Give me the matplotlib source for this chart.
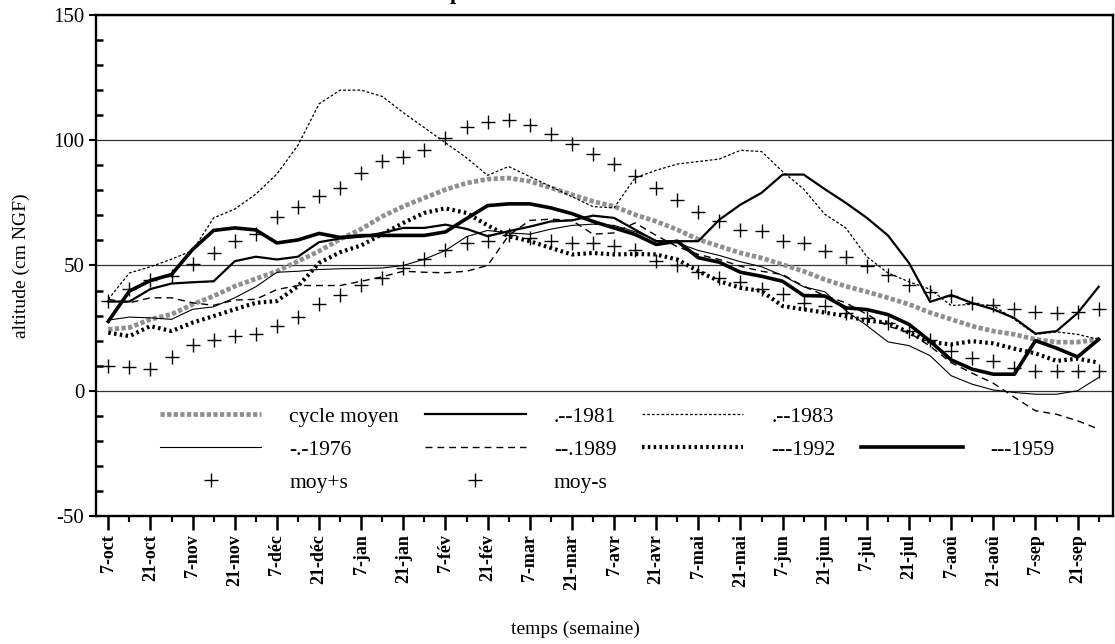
import matplotlib
matplotlib.use('Agg')
import matplotlib.pyplot as plt
from matplotlib.lines import Line2D
from matplotlib.ticker import MultipleLocator
import numpy as np

plt.rcParams['font.family'] = ['Liberation Serif', 'DejaVu Serif']
plt.rcParams['axes.unicode_minus'] = False

# --- données (altitude en cm NGF, une valeur par semaine) ---
semaines = ['7-oct', '21-oct', '7-nov', '21-nov', '7-déc', '21-déc', '7-jan', '21-jan',
            '7-fév', '21-fév', '7-mar', '21-mar', '7-avr', '21-avr', '7-mai', '21-mai',
            '7-jun', '21-jun', '7-jul', '21-jul', '7-aoû', '21-aoû', '7-sep', '21-sep']

cycle_moyen = [24.5, 25.2, 28.5, 30.5, 34.5, 37.8, 41.7, 44.7, 47.7, 51.7, 55.7, 60.5,
               64.5, 69.6, 73.6, 77.0, 80.3, 82.9, 84.5, 84.9, 83.6, 81.0, 78.3, 75.6,
               73.6, 70.3, 67.6, 64.3, 60.4, 57.7, 55.0, 53.0, 50.4, 47.7, 44.4, 41.7,
               39.5, 37.1, 34.5, 31.2, 28.5, 25.8, 23.8, 22.5, 20.5, 19.4, 19.4, 20.5]
a1981 = [35.6, 35.6, 40.6, 42.8, 43.3, 43.7, 51.7, 53.5, 52.4, 53.5, 59.3, 60.8,
         61.5, 63.0, 65.0, 65.0, 66.3, 64.6, 61.7, 63.7, 65.5, 67.6, 68.0, 69.9,
         69.0, 64.3, 59.7, 59.7, 59.7, 68.3, 74.3, 79.0, 86.3, 86.3, 80.5, 75.0,
         69.0, 62.0, 51.0, 35.5, 38.2, 35.0, 32.5, 29.0, 22.8, 23.8, 31.0, 41.5]
a1983 = [36.5, 47.0, 49.5, 52.5, 56.0, 69.0, 72.5, 78.5, 86.5, 98.0, 114.5, 120.0,
         120.0, 117.5, 111.0, 105.0, 99.0, 93.0, 86.0, 89.5, 85.5, 81.5, 77.5, 73.5,
         73.0, 85.0, 88.0, 90.5, 91.5, 92.5, 96.0, 95.5, 87.5, 80.5, 70.5, 65.0,
         53.5, 47.0, 43.5, 40.5, 34.0, 34.5, 34.0, 28.5, 22.5, 23.5, 22.5, 20.5]
a1976 = [28.2, 29.4, 29.1, 28.5, 32.5, 33.5, 37.1, 41.5, 47.3, 47.7, 48.4, 48.7,
         48.8, 49.0, 50.0, 52.5, 56.0, 61.5, 64.0, 63.0, 62.5, 64.5, 66.0, 66.5,
         66.0, 63.5, 60.0, 59.0, 56.0, 54.0, 51.5, 49.5, 46.0, 41.5, 39.5, 32.0,
         26.0, 19.5, 18.0, 14.0, 6.0, 2.6, 0.3, -0.7, -1.4, -1.4, 0.0, 5.3]
a1989 = [36.5, 35.1, 37.1, 37.1, 35.1, 34.1, 36.2, 36.5, 40.4, 42.0, 42.0, 42.0,
         43.7, 45.5, 47.7, 47.3, 47.1, 47.7, 50.0, 62.0, 68.0, 68.5, 68.0, 62.5,
         63.0, 67.0, 62.0, 57.5, 54.4, 52.4, 49.7, 47.7, 46.4, 41.7, 38.0, 35.1,
         30.5, 25.8, 23.2, 17.8, 11.2, 7.0, 3.0, -2.6, -8.0, -9.4, -12.0, -15.3]
a1992 = [23.2, 21.8, 25.8, 23.8, 27.2, 29.8, 32.5, 35.1, 35.8, 41.7, 51.0, 55.3,
         58.0, 62.5, 67.0, 71.0, 72.8, 71.0, 66.0, 61.7, 59.7, 57.0, 54.4, 55.0,
         54.4, 54.6, 54.4, 52.4, 47.7, 43.7, 41.1, 39.8, 33.8, 32.5, 31.2, 29.8,
         28.0, 27.2, 23.2, 19.4, 18.5, 19.8, 18.9, 16.8, 14.9, 11.9, 12.8, 11.2]
a1959 = [27.7, 39.8, 44.0, 46.4, 56.4, 64.0, 65.0, 64.2, 59.0, 60.2, 62.8, 61.2,
         61.9, 62.0, 62.0, 62.0, 63.4, 68.7, 73.9, 74.6, 74.6, 73.0, 70.7, 67.6,
         65.0, 62.4, 58.4, 59.7, 53.1, 51.3, 47.3, 45.7, 43.7, 38.0, 37.8, 33.1,
         32.4, 30.4, 26.5, 19.8, 12.3, 8.6, 6.6, 6.6, 20.0, 17.0, 13.5, 20.5]
moy_plus_s = [35.8, 40.7, 44.1, 46.0, 50.4, 55.0, 59.7, 62.7, 69.4, 73.4, 77.9, 81.0,
              86.8, 91.6, 93.3, 96.2, 100.9, 105.3, 107.2, 108.2, 106.2, 102.5, 98.6, 94.5,
              90.6, 85.6, 81.0, 76.3, 71.2, 67.6, 64.3, 63.7, 59.7, 59.0, 55.7, 53.5,
              49.6, 46.4, 42.4, 39.4, 37.8, 34.9, 34.1, 32.7, 31.4, 30.9, 31.4, 32.7]
moy_moins_s = [9.9, 9.5, 8.6, 13.5, 18.1, 20.2, 21.8, 22.8, 25.8, 29.4, 34.5, 38.4,
               42.4, 45.1, 49.1, 52.7, 56.0, 58.8, 59.7, 62.0, 61.0, 59.7, 58.8, 58.8,
               57.7, 56.0, 51.7, 50.0, 47.3, 45.1, 43.5, 40.7, 38.8, 35.1, 33.8, 30.9,
               29.2, 27.2, 23.8, 20.2, 15.9, 13.2, 11.9, 9.2, 7.9, 7.9, 7.9, 7.9]

x = np.arange(len(cycle_moyen))

fig = plt.figure(figsize=(11.15, 6.44), dpi=100)
ax = fig.add_axes([0.0861, 0.1988, 0.9121, 0.7779])

# courbes
l_cycle, = ax.plot(x, cycle_moyen, color='#8f8f8f', lw=3.4, ls=(0, (0.9, 0.5)))
l81, = ax.plot(x, a1981, color='black', lw=1.6)
l83, = ax.plot(x, a1983, color='black', lw=0.9, ls=(0, (2.2, 1.6)))
l76, = ax.plot(x, a1976, color='black', lw=0.8)
l89, = ax.plot(x, a1989, color='black', lw=1.0, ls=(0, (5, 3.5)))
l92, = ax.plot(x, a1992, color='black', lw=3.0, ls=(0, (0.6, 0.8)))
l59, = ax.plot(x, a1959, color='black', lw=2.6)
lp, = ax.plot(x, moy_plus_s, ls='none', marker='+', ms=10, mew=1.0, color='black')
lm, = ax.plot(x, moy_moins_s, ls='none', marker='+', ms=10, mew=1.0, color='black')

# axes
ax.set_xlim(-0.584, 47.68)
ax.set_ylim(-50, 150)
ax.set_xticks(x[::2])
ax.set_xticklabels(semaines, rotation=90, fontsize=13, fontweight='bold')
ax.xaxis.set_minor_locator(MultipleLocator(1))
ax.tick_params(axis='x', which='major', direction='out', length=10, width=1.8, pad=3)
ax.tick_params(axis='x', which='minor', direction='out', length=4, width=1.5)
ax.set_yticks([-50, 0, 50, 100, 150])
ax.yaxis.set_minor_locator(MultipleLocator(10))
ax.tick_params(axis='y', which='major', direction='out', length=5, width=1.5, labelsize=15)
ax.tick_params(axis='y', which='minor', direction='in', length=5, width=1.8)
for s in ax.spines.values():
    s.set_linewidth(1.7)
ax.grid(axis='y', which='major', color='#333333', lw=0.9)
ax.set_axisbelow(True)

ax.set_xlabel('temps (semaine)', fontsize=14)
ax.xaxis.set_label_coords(0.471, -0.21)
ax.set_ylabel('altitude (cm NGF)', fontsize=14)
ax.yaxis.set_label_coords(-0.065, 0.5)

# légende sur 4 colonnes (cases vides pour garder la disposition)
vide = Line2D([], [], ls='none')
handles = [l_cycle, l76, lp, l81, l89, lm, l83, l92, vide, vide, l59, vide]
labels = ['cycle moyen', '-.-1976', 'moy+s', '.--1981', '--.1989', 'moy-s',
          '.--1983', '---1992', '', '', '---1959', '']
ax.legend(handles, labels, ncol=4, loc='upper left', bbox_to_anchor=(0.063, 0.218),
          frameon=False, fontsize=15.5, handlelength=4.7, handletextpad=1.3,
          columnspacing=1.2, labelspacing=0.6, borderpad=0, borderaxespad=0)

# morceau du titre coupé en haut de l'image
fig.text(450 / 1115, 1 + 1 / 644, 'p', fontsize=16, fontweight='bold', va='baseline', ha='left')

fig.savefig('out.png', dpi=100)
